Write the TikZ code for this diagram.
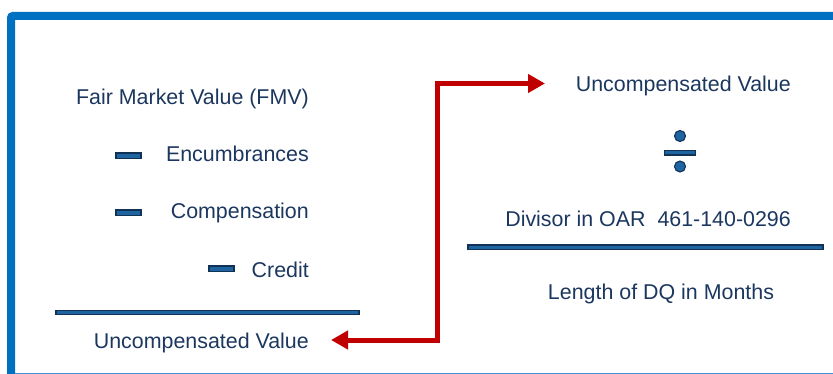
\documentclass[tikz,border=0pt]{standalone}
\usepackage{fontspec}
\setmainfont{Liberation Sans}
\usetikzlibrary{arrows.meta}
\definecolor{frameblue}{RGB}{0,112,192}
\definecolor{edgeblue}{RGB}{70,140,200}
\definecolor{navy}{RGB}{28,55,95}
\definecolor{barfill}{RGB}{30,100,160}
\definecolor{baredge}{RGB}{18,50,85}
\definecolor{arrowred}{RGB}{192,0,0}
\tikzset{
  label/.style={text=navy, inner sep=0pt, font=\fontsize{21.4}{25}\selectfont},
  minusbar/.style={fill=barfill, draw=baredge, line width=1.1pt},
  rulebar/.style={fill=barfill, draw=baredge, line width=1.1pt},
  linkarrow/.style={draw=arrowred, line width=5pt, line join=miter,
    {Triangle[length=17pt,width=18pt]}-{Triangle[length=17pt,width=18pt]}},
}
\begin{document}
\begin{tikzpicture}[x=1pt,y=-1pt]
\useasboundingbox (0,0) rectangle (833,374);
% panel frame
\draw[frameblue, line width=8pt, rounded corners=2pt] (11,380) -- (11,16) -- (840,16);
\draw[edgeblue, line width=1.5pt] (15,373.3) -- (833,373.3);

% left column: subtraction
\node[label, anchor=base east] (fmv)  at (309,105) {Fair Market Value (FMV)};
\node[label, anchor=base east] (enc)  at (309,162) {Encumbrances};
\node[label, anchor=base east] (comp) at (309,219) {Compensation};
\node[label, anchor=base east] (cred) at (309,278) {Credit};
\fill[minusbar] (116,153) rectangle (141,158.5);
\fill[minusbar] (116,210) rectangle (141,215.5);
\fill[minusbar] (209,266) rectangle (234,271.5);
\fill[rulebar] (56,310.5) rectangle (359,314.5);
\node[label, anchor=base east] (uvl) at (309,348) {Uncompensated Value};

% right column: division
\node[label, anchor=base east] (uvr) at (791,92) {Uncompensated Value};
\fill[minusbar] (680,136) circle (5.5);
\fill[minusbar] (664.5,150.5) rectangle (695.5,155);
\fill[minusbar] (680,166.5) circle (5.5);
\node[label, anchor=base east] (div) at (791,227) {Divisor in OAR\ \ 461-140-0296};
\fill[rulebar] (468,245) rectangle (823,249.5);
\node[label, anchor=base] (len) at (661,299) {Length of DQ in Months};

% connector between the two values
\coordinate (tipl) at (331,340);
\coordinate (bend) at (437,83.5);
\coordinate (tipr) at (545,83.5);
\draw[linkarrow] (tipl) -| (bend) -- (tipr);
\end{tikzpicture}
\end{document}
